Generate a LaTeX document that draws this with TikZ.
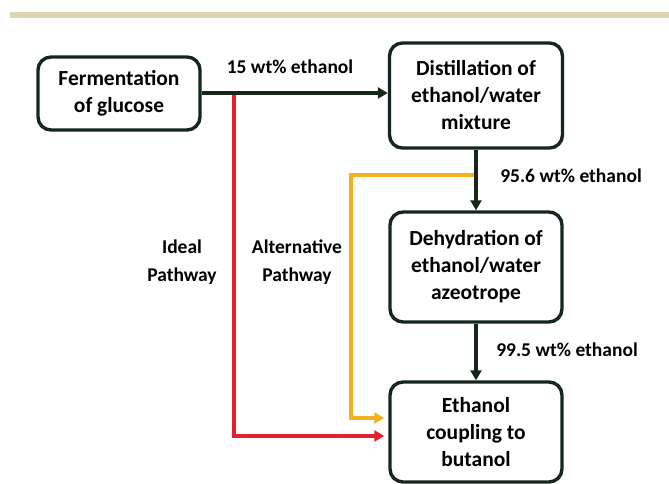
\documentclass[tikz,border=0pt]{standalone}
\usepackage{fontspec}
\setmainfont{Carlito}
\usepackage{tikz}
\usetikzlibrary{positioning}
\usetikzlibrary{arrows.meta}
\definecolor{boxline}{HTML}{15261B}
\definecolor{idealred}{HTML}{E5202E}
\definecolor{altyellow}{HTML}{F4B223}
\definecolor{topbar}{HTML}{DCD4B2}
\tikzset{
  procbox/.style={draw=boxline, line width=3.4pt, rounded corners=13pt, align=center,
    inner sep=0pt, font=\fontsize{21.5}{27}\selectfont\bfseries},
  flowlabel/.style={font=\fontsize{19.5}{28}\selectfont\bfseries, align=center},
  flow/.style={-{Triangle[length=10pt,width=11pt]}, line width=3.2pt, draw=boxline},
}

\begin{document}
\begin{tikzpicture}[x=1pt,y=-1pt]
        \useasboundingbox (0,0) rectangle (669,484);
        \fill[topbar] (10,12) rectangle (669,18);
        % process boxes
        \node[procbox, minimum width=162pt, minimum height=73pt] (ferm) at (119,93.5) {Fermentation\\of glucose};
        \node[procbox, minimum width=173pt, minimum height=105pt] (dist) at (476,95.5) {Distillation of\\ethanol/water\\mixture};
        \node[procbox, minimum width=172pt, minimum height=110pt] (dehy) at (476,267) {Dehydration of\\ethanol/water\\azeotrope};
        \node[procbox, minimum width=172pt, minimum height=100pt] (coup) at (476,432) {Ethanol\\coupling to\\butanol};
        \coordinate (split) at (234,93);
        \coordinate (tap) at (476,175);
        \coordinate (altbend) at (351,175);
        % pathways
        \draw[flow, draw=idealred, shorten >=4pt] (split) |- ([yshift=-4pt]coup.west);
        \draw[flow, draw=altyellow, shorten >=4pt] (tap) -- (altbend) |- ([yshift=14pt]coup.west);
        \draw[flow] (ferm.east |- split) -- (dist.west |- split);
        \draw[flow] (dist.south) -- (dehy.north);
        \draw[flow] (dehy.south) -- (coup.north);
        % labels
        \node[flowlabel] (lab15) at (290,67) {15 wt\% ethanol};
        \node[flowlabel] (lab956) at (571,176) {95.6 wt\% ethanol};
        \node[flowlabel] (lab995) at (567,350) {99.5 wt\% ethanol};
        \node[flowlabel] (ideal) at (182,262) {Ideal\\Pathway};
        \node[flowlabel] (alt) at (297,262) {Alternative\\Pathway};
\end{tikzpicture}
\end{document}
